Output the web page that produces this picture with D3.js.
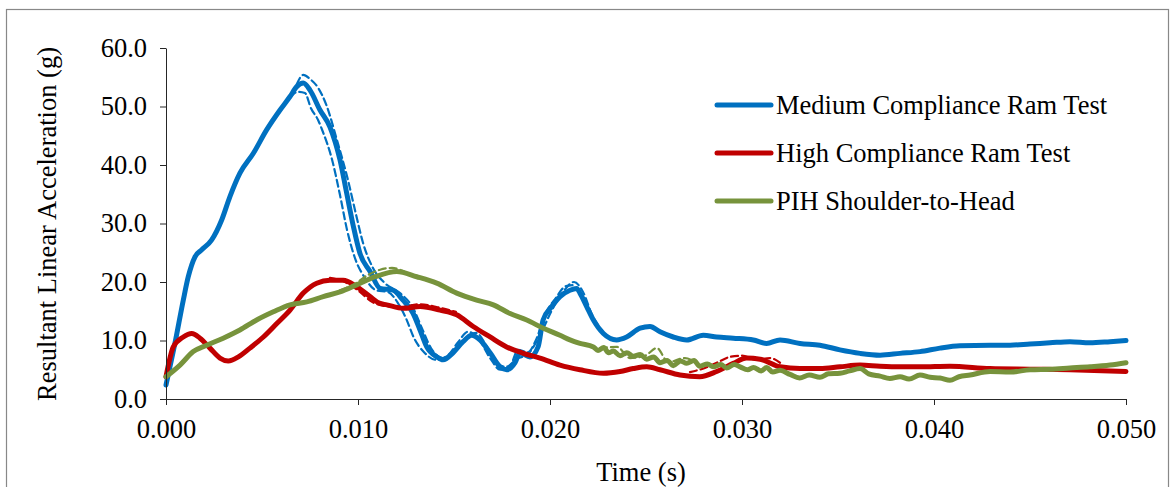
<!DOCTYPE html>
<html>
<head>
<meta charset="utf-8">
<script src="https://cdn.jsdelivr.net/npm/d3@7"></script>
<style>
  body { margin: 0; background: #fff; }
  svg { display: block; font-family: "Liberation Serif", "Times New Roman", serif; }
</style>
</head>
<body>
<div id="chart"></div>
<script>
// time (s), resultant acceleration (g)
const mediumRam = [
  [0, 2.4], [0.00047, 9.6], [0.0009, 16.9], [0.00116, 20.9], [0.00151, 24.3], [0.00186, 25.5],
  [0.00238, 27.2], [0.0029, 30.6], [0.00333, 34.6], [0.00385, 38.6], [0.00455, 42.0], [0.00524, 46.0],
  [0.00594, 49.4], [0.00646, 51.7], [0.00681, 53.4], [0.00715, 54.0], [0.0075, 52.8], [0.00802, 49.4],
  [0.00854, 46.5], [0.00906, 40.9], [0.00941, 35.2], [0.00976, 29.5], [0.0101, 24.9], [0.01063, 21.8],
  [0.01115, 18.9], [0.01182, 18.6], [0.01234, 16.9], [0.01286, 14.7], [0.01323, 11.8], [0.01358, 8.9],
  [0.0141, 7.2], [0.01443, 6.7], [0.01495, 7.9], [0.01547, 9.8], [0.01592, 10.9], [0.01635, 10.1],
  [0.01688, 7.9], [0.0174, 5.5], [0.01774, 5.0], [0.01818, 6.2], [0.01844, 7.9], [0.01896, 7.2],
  [0.01938, 8.9], [0.01964, 13.5], [0.02009, 15.8], [0.02052, 17.5], [0.02104, 18.6], [0.02139, 18.9],
  [0.02156, 18.1], [0.02191, 15.8], [0.02226, 13.5], [0.02278, 11.2], [0.02347, 10.1], [0.02399, 10.6],
  [0.02469, 12.1], [0.02521, 12.4], [0.02573, 11.5], [0.02642, 10.6], [0.02712, 10.1], [0.02798, 10.9],
  [0.02868, 10.6], [0.02955, 10.4], [0.03059, 10.1], [0.03128, 9.5], [0.03198, 10.1], [0.03302, 9.5],
  [0.03406, 9.2], [0.0351, 8.4], [0.03615, 7.8], [0.03719, 7.5], [0.03823, 7.8], [0.03927, 8.1],
  [0.04031, 8.7], [0.04135, 9.1], [0.04292, 9.2], [0.04396, 9.2], [0.045, 9.4], [0.04604, 9.6],
  [0.04708, 9.8], [0.04812, 9.6], [0.04917, 9.8], [0.05, 10.0]
];
const mediumTrialA = [
  [0.00681, 53.8], [0.00715, 55.4], [0.0075, 54.7], [0.00792, 53.2], [0.00837, 50.1], [0.0089, 44.3],
  [0.00948, 37.4], [0.0099, 31.5], [0.01026, 26.7], [0.01078, 22.4], [0.0114, 19.8], [0.01219, 18.1],
  [0.01286, 15.6], [0.01333, 12.1], [0.0138, 8.7], [0.01443, 7.0], [0.01505, 8.4], [0.01563, 10.4],
  [0.01615, 11.3], [0.01667, 9.2], [0.01719, 6.3], [0.01771, 5.5], [0.01833, 7.0], [0.01875, 7.4],
  [0.01948, 10.9], [0.0201, 15.2], [0.02068, 18.3], [0.02125, 20.0], [0.02172, 18.3], [0.02219, 14.4],
  [0.02271, 11.6]
];
const mediumTrialB = [
  [0.00646, 51.6], [0.00688, 52.5], [0.00724, 52.3], [0.00755, 49.7], [0.00792, 47.7], [0.00818, 45.6],
  [0.00865, 40.9], [0.00906, 34.9], [0.00943, 28.9], [0.00984, 24.1], [0.01036, 20.7], [0.01094, 18.6],
  [0.01156, 18.3], [0.01208, 16.4], [0.0125, 13.8], [0.01292, 10.4], [0.01344, 8.0], [0.01406, 6.7],
  [0.01469, 7.5], [0.01521, 9.7], [0.01573, 11.5], [0.01625, 10.4], [0.01688, 7.0], [0.0174, 5.0],
  [0.01792, 5.6], [0.01833, 8.4], [0.01885, 8.0], [0.01927, 10.1], [0.01974, 14.4], [0.02031, 17.3],
  [0.02083, 19.3], [0.0213, 19.5]
];

const highRam = [
  [0, 3.8], [0.00038, 8.9], [0.0009, 10.6], [0.00134, 11.2], [0.00177, 10.4], [0.00229, 8.7],
  [0.00281, 7.0], [0.00324, 6.5], [0.00377, 7.2], [0.00437, 8.7], [0.00507, 10.6], [0.00577, 12.9],
  [0.00646, 15.2], [0.00715, 18.1], [0.00785, 19.8], [0.00854, 20.3], [0.00923, 20.3], [0.00993, 19.2],
  [0.01063, 17.5], [0.0111, 16.4], [0.0115, 16.1], [0.01236, 15.5], [0.01323, 15.8], [0.01427, 15.2],
  [0.01514, 14.4], [0.016, 12.4], [0.01688, 10.6], [0.01774, 8.9], [0.01861, 7.8], [0.01948, 7.0],
  [0.02052, 5.8], [0.02156, 5.0], [0.02278, 4.4], [0.02365, 4.7], [0.02434, 5.2], [0.02504, 5.5],
  [0.02573, 5.0], [0.02677, 4.1], [0.0278, 3.8], [0.02868, 4.7], [0.02955, 6.1], [0.03024, 7.0],
  [0.03094, 6.8], [0.03198, 5.5], [0.03302, 5.2], [0.03406, 5.2], [0.0351, 5.5], [0.03615, 5.8],
  [0.03719, 5.6], [0.03823, 5.5], [0.03927, 5.5], [0.04083, 5.6], [0.04292, 5.2], [0.045, 5.1],
  [0.04708, 5.0], [0.04917, 4.8], [0.05, 4.7]
];
const highTrialA = [
  [0.00854, 20.7], [0.00932, 20.0], [0.0101, 18.3], [0.01073, 16.6], [0.0114, 15.9], [0.01219, 15.7],
  [0.01323, 16.2], [0.01427, 15.6], [0.0151, 14.9]
];
const highTrialB = [
  [0.02729, 4.6], [0.02807, 5.3], [0.02875, 6.3], [0.02938, 7.2], [0.03, 7.4], [0.03073, 6.7],
  [0.03146, 7.0], [0.03198, 6.2]
];

const pihShoulder = [
  [0, 3.8], [0.00073, 5.8], [0.00142, 8.1], [0.00212, 9.2], [0.00298, 10.4], [0.00385, 11.8],
  [0.00472, 13.5], [0.00559, 14.9], [0.00646, 16.1], [0.00733, 16.6], [0.00819, 17.5], [0.00906, 18.3],
  [0.00993, 19.5], [0.0109, 20.9], [0.01202, 21.8], [0.01306, 20.9], [0.0141, 19.8], [0.01514, 18.1],
  [0.01618, 16.9], [0.01705, 16.1], [0.01792, 14.6], [0.01879, 13.5], [0.01965, 12.1], [0.02052, 10.9],
  [0.02104, 10.1], [0.02156, 9.5], [0.02226, 8.9], [0.0225, 8.3], [0.0228, 8.8], [0.02305, 7.9],
  [0.0233, 8.2], [0.02365, 7.4], [0.024, 7.9], [0.02434, 7.3], [0.0247, 7.6], [0.02504, 6.8],
  [0.0254, 7.2], [0.02573, 6.2], [0.0261, 6.6], [0.02642, 5.7], [0.0268, 6.5], [0.02712, 6.1],
  [0.0275, 6.6], [0.0278, 5.6], [0.0282, 6.0], [0.0285, 5.5], [0.0289, 5.9], [0.0292, 5.3],
  [0.0296, 5.9], [0.0299, 5.5], [0.0303, 5.0], [0.03059, 5.4], [0.031, 4.8], [0.03128, 5.4],
  [0.0316, 4.6], [0.03198, 4.9], [0.0325, 4.2], [0.033, 3.6], [0.0335, 4.1], [0.03406, 3.7],
  [0.0345, 4.3], [0.0351, 4.4], [0.0356, 4.8], [0.03615, 5.2], [0.0366, 4.3], [0.03719, 3.9],
  [0.0377, 3.5], [0.03823, 3.8], [0.0387, 3.4], [0.03927, 4.1], [0.0398, 3.7], [0.04031, 3.6],
  [0.04083, 3.2], [0.0413, 3.8], [0.04188, 4.1], [0.04292, 4.7], [0.04396, 4.6], [0.045, 5.0],
  [0.04604, 5.1], [0.04708, 5.3], [0.04813, 5.5], [0.04917, 5.8], [0.05, 6.2]
];
const pihTrialA = [
  [0.00906, 18.6], [0.00984, 19.7], [0.01052, 21.2], [0.01115, 22.1], [0.01177, 22.4], [0.01245, 21.7]
];
const pihTrialB = [
  [0.0226, 8.7], [0.02349, 8.9], [0.02417, 7.0], [0.02495, 7.4], [0.02557, 8.7], [0.02615, 6.3],
  [0.02703, 7.0], [0.0278, 5.6]
];

const seriesNames = ["Medium Compliance Ram Test", "High Compliance Ram Test", "PIH Shoulder-to-Head"];
const seriesColors = ["#0070C0", "#C00000", "#77933C"];
const xTicks = [0, 0.01, 0.02, 0.03, 0.04, 0.05];
const yTicks = [0, 10, 20, 30, 40, 50, 60];

const series = [
  { main: mediumRam, trials: [mediumTrialA, mediumTrialB] },
  { main: highRam, trials: [highTrialA, highTrialB] },
  { main: pihShoulder, trials: [pihTrialA, pihTrialB] }
];

const width = 1175, height = 487;
const fontSize = "26.5px";
const svg = d3.select("#chart").append("svg")
    .attr("width", width)
    .attr("height", height);

// outer chart frame
svg.append("rect")
    .attr("x", 6.5).attr("y", 9.5)
    .attr("width", 1162).attr("height", 520)
    .attr("fill", "none")
    .attr("stroke", "#888")
    .attr("stroke-width", 1.2);

const x = d3.scaleLinear().domain([0, 0.05]).range([166, 1126]);
const y = d3.scaleLinear().domain([0, 60]).range([399, 48]);

const line = d3.line()
    .x(d => x(d[0]))
    .y(d => y(d[1]))
    .curve(d3.curveMonotoneX);

series.forEach((s, i) => {
    s.trials.forEach(t => {
        svg.append("path")
            .datum(t)
            .attr("d", line)
            .attr("fill", "none")
            .attr("stroke", seriesColors[i])
            .attr("stroke-width", 2.2)
            .attr("stroke-dasharray", "7,4")
            .attr("stroke-linecap", "round");
    });
    svg.append("path")
        .datum(s.main)
        .attr("d", line)
        .attr("fill", "none")
        .attr("stroke", seriesColors[i])
        .attr("stroke-width", 5)
        .attr("stroke-linejoin", "round")
        .attr("stroke-linecap", "round");
});

const yAxis = svg.append("g")
    .attr("transform", "translate(166,0)")
    .call(d3.axisLeft(y).tickValues(yTicks).tickFormat(d3.format(".1f")).tickSize(6).tickSizeOuter(0).tickPadding(13));
const xAxis = svg.append("g")
    .attr("transform", "translate(0,399)")
    .call(d3.axisBottom(x).tickValues(xTicks).tickFormat(d3.format(".3f")).tickSize(6).tickSizeOuter(0).tickPadding(14));

[yAxis, xAxis].forEach(g => {
    g.selectAll("path, line").attr("stroke", "#262626");
    g.selectAll("text")
        .attr("fill", "#000")
        .style("font-family", "Liberation Serif, Times New Roman, serif")
        .style("font-size", fontSize);
});

svg.append("text")
    .attr("x", 641).attr("y", 481)
    .attr("text-anchor", "middle")
    .style("font-size", fontSize)
    .text("Time (s)");

svg.append("text")
    .attr("transform", "translate(56,224) rotate(-90)")
    .attr("text-anchor", "middle")
    .style("font-size", fontSize)
    .text("Resultant Linear Acceleration (g)");

// legend
const legend = svg.append("g");
seriesNames.forEach((name, i) => {
    const ly = 105 + i * 48;
    legend.append("line")
        .attr("x1", 717).attr("x2", 771)
        .attr("y1", ly).attr("y2", ly)
        .attr("stroke", seriesColors[i])
        .attr("stroke-width", 5)
        .attr("stroke-linecap", "round");
    legend.append("text")
        .attr("x", 776).attr("y", ly)
        .attr("dy", "0.35em")
        .style("font-size", fontSize)
        .text(name);
});
</script>
</body>
</html>
